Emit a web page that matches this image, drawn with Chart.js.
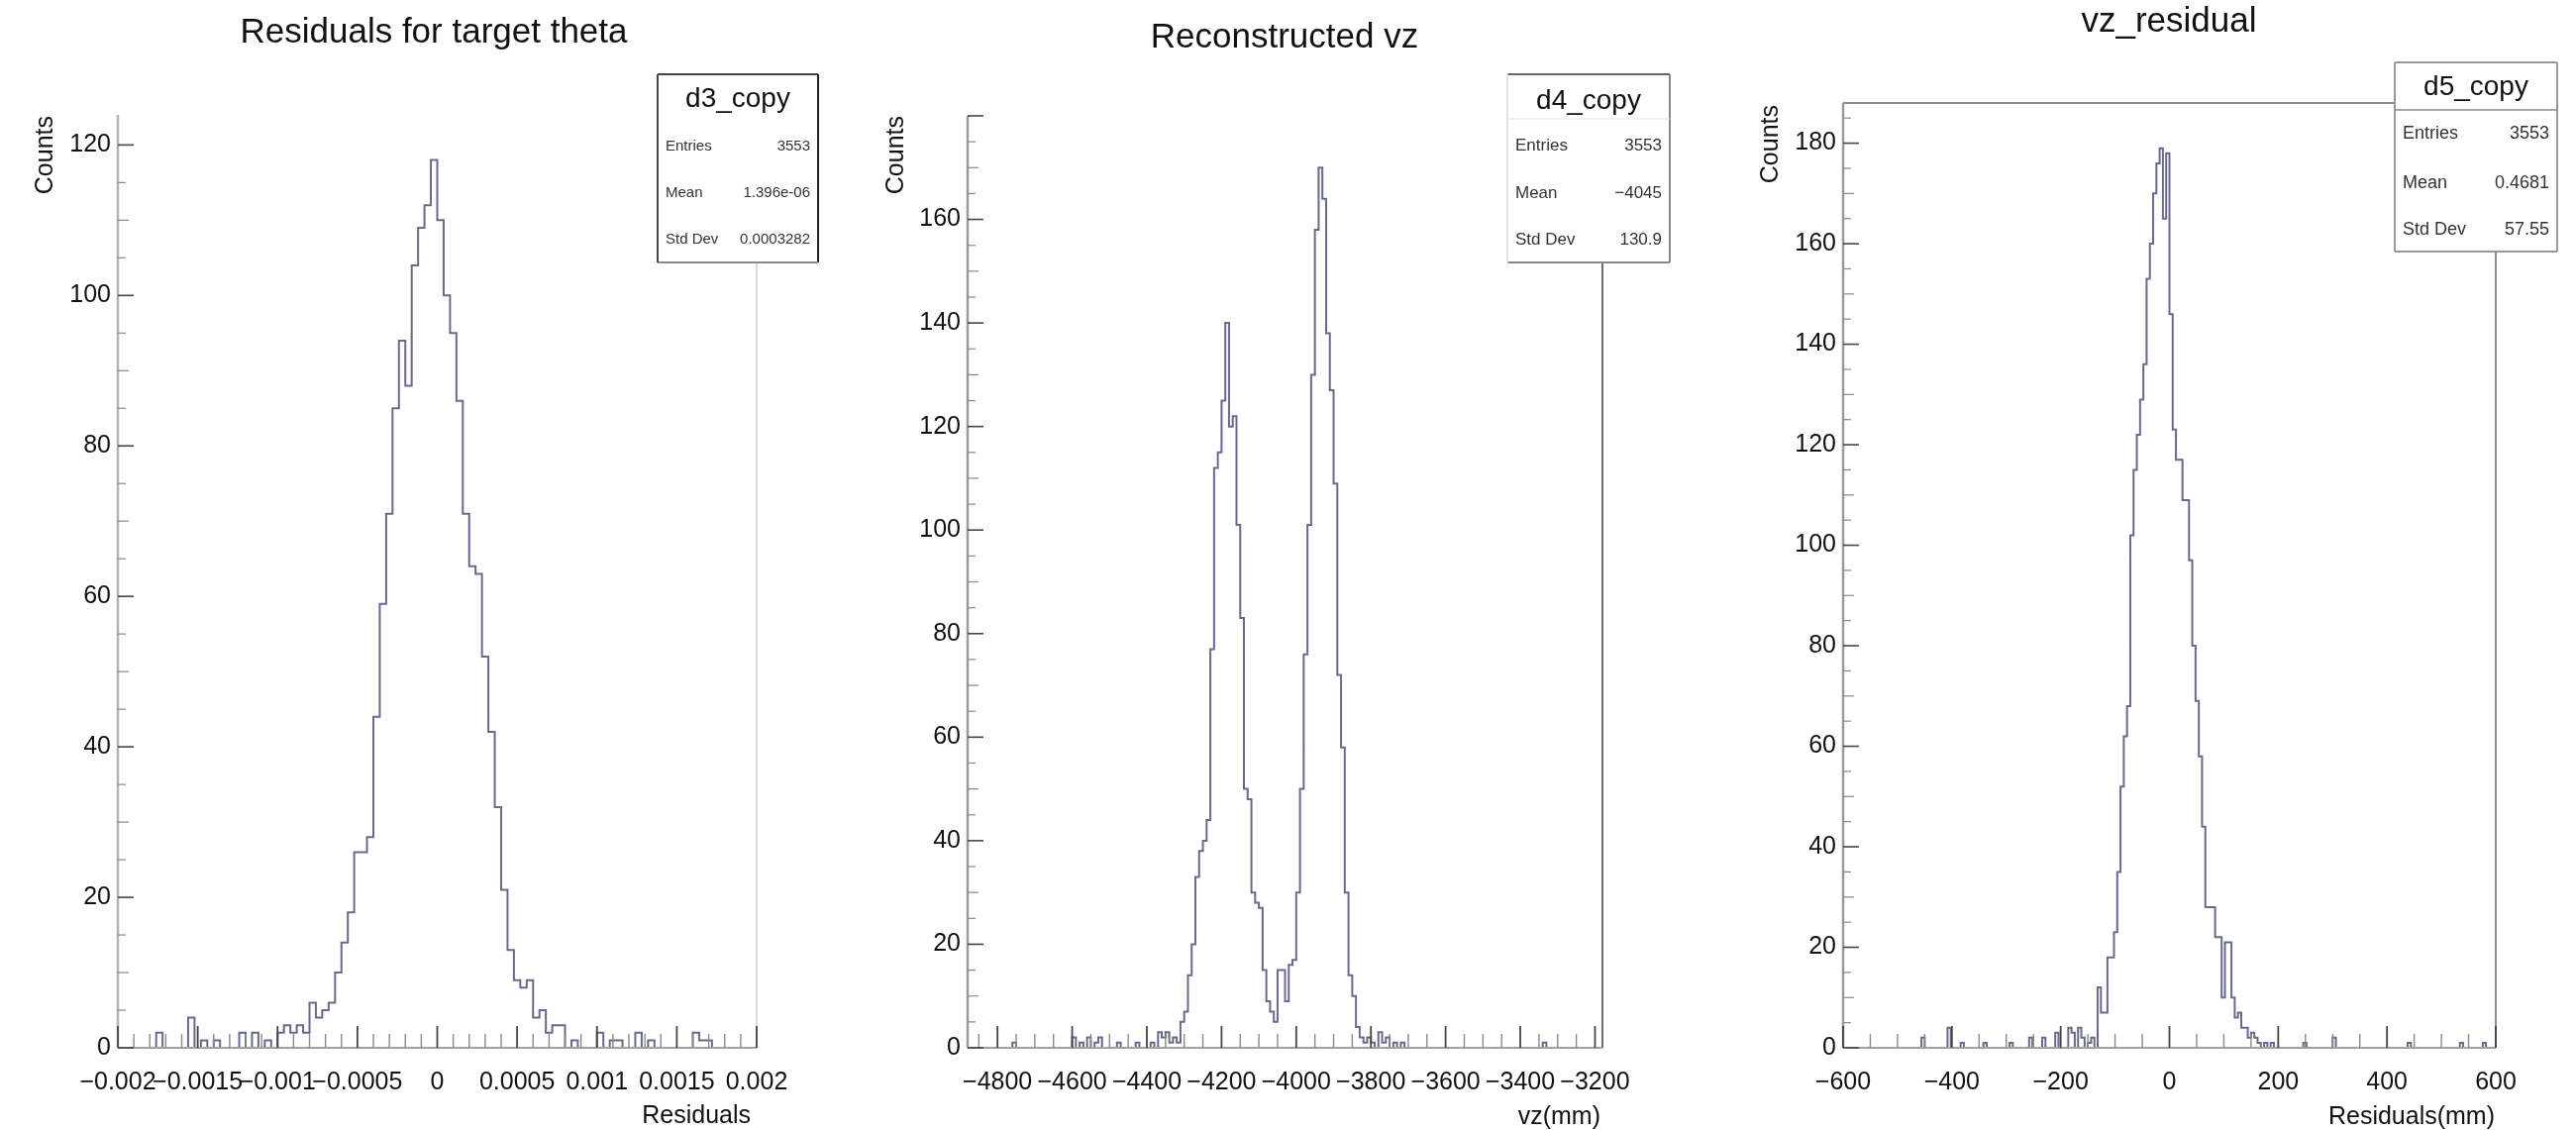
<!DOCTYPE html>
<html>
<head>
<meta charset="utf-8">
<script src="https://cdn.jsdelivr.net/npm/chart.js@4.4.0/dist/chart.umd.min.js"></script>
<style>
html,body{margin:0;padding:0;background:#fff;width:2601px;height:1141px;overflow:hidden;}
canvas{position:absolute;top:0;}
</style>
</head>
<body>
<canvas id="c1" width="867" height="1141" style="left:0px"></canvas>
<canvas id="c2" width="873" height="1141" style="left:867px"></canvas>
<canvas id="c3" width="861" height="1141" style="left:1740px"></canvas>
<script>
// ---------------- DATA ----------------
const panelTitles = ['Residuals for target theta', 'Reconstructed vz', 'vz_residual'];
const xAxisTitles = ['Residuals', 'vz(mm)', 'Residuals(mm)'];
const yAxisTitle = 'Counts';
const statNames = ['Entries', 'Mean', 'Std Dev'];
const boxNames = ['d3_copy', 'd4_copy', 'd5_copy'];
const thetaStats = ['3553', '1.396e-06', '0.0003282'];
const vzStats = ['3553', '\u22124045', '130.9'];
const vzResStats = ['3553', '0.4681', '57.55'];

// Panel 1: residuals for target theta, 100 bins from -0.002, width 0.00004
const thetaBinStart = -0.002;
const thetaBinWidth = 0.00004;
const thetaCounts = [
  0,0,0,0,0,0,0,2,0,0,
  0,0,4,0,1,0,1,0,0,0,
  2,0,2,0,1,0,2,3,2,3,
  2,6,4,5,6,10,14,18,26,26,
  28,44,59,71,85,94,88,104,109,112,
  118,110,100,95,86,71,64,63,52,42,
  32,21,13,9,8,9,4,5,2,3,
  3,0,1,0,0,0,2,0,1,1,
  0,0,2,0,1,0,0,0,0,0,
  0,2,1,1,0,0,0,0,0,0
];
const thetaXTicks = [-0.002, -0.0015, -0.001, -0.0005, 0, 0.0005, 0.001, 0.0015, 0.002];
const thetaXLabels = ['\u22120.002', '\u22120.0015', '\u22120.001', '\u22120.0005', '0', '0.0005', '0.001', '0.0015', '0.002'];
const thetaYTicks = [0, 20, 40, 60, 80, 100, 120];
const thetaYLabels = ['0', '20', '40', '60', '80', '100', '120'];

// Panel 2: reconstructed vz, 170 bins from -4880, width 10
const vzBinStart = -4880;
const vzBinWidth = 10;
const vzCounts = [
  0,0,0,0,0,0,0,0,0,0,
  0,0,0,1,0,0,0,0,0,0,
  0,0,0,0,0,0,0,0,0,2,
  0,1,0,2,0,1,2,0,0,0,
  0,1,0,0,0,0,1,0,0,0,
  1,0,3,2,3,1,2,1,5,7,
  14,20,33,38,40,44,77,112,115,125,
  140,120,122,101,83,50,48,30,28,27,
  15,9,7,5,15,15,9,16,17,30,
  50,76,101,130,158,170,164,138,127,109,
  72,58,30,14,10,4,2,1,2,1,
  0,3,1,2,0,1,0,1,0,0,
  0,0,0,0,0,0,0,0,0,0,
  0,0,0,0,0,0,0,0,0,0,
  0,0,0,0,0,0,0,0,0,0,
  0,0,0,0,0,1,0,0,0,0,
  0,0,0,0,0,0,0,0,0,0
];
const vzXTicks = [-4800, -4600, -4400, -4200, -4000, -3800, -3600, -3400, -3200];
const vzXLabels = ['\u22124800', '\u22124600', '\u22124400', '\u22124200', '\u22124000', '\u22123800', '\u22123600', '\u22123400', '\u22123200'];
const vzYTicks = [0, 20, 40, 60, 80, 100, 120, 140, 160];
const vzYLabels = ['0', '20', '40', '60', '80', '100', '120', '140', '160'];

// Panel 3: vz residual, 200 bins from -600, width 6
const resBinStart = -600;
const resBinWidth = 6;
const resCounts = [
  0,0,0,0,0,0,0,0,0,0,
  0,0,0,0,0,0,0,0,0,0,
  0,0,0,0,0,2,0,0,0,0,
  0,0,0,4,0,0,0,1,0,0,
  0,0,0,0,1,0,0,0,0,0,
  0,0,1,0,0,0,0,0,2,0,
  0,0,2,0,0,0,3,0,0,0,
  4,3,0,4,2,0,1,2,0,12,
  7,7,18,18,23,35,52,62,68,102,
  115,122,129,136,153,160,170,176,179,165,
  178,146,123,117,117,109,109,97,80,69,
  58,44,28,28,28,22,22,10,21,21,
  10,6,7,4,4,2,3,2,1,0,
  1,0,1,0,0,0,0,0,0,0,
  0,0,1,0,0,0,0,0,0,0,
  0,2,0,0,0,0,0,0,0,0,
  0,0,0,0,0,0,0,0,0,0,
  0,0,0,0,1,0,0,0,0,0,
  0,0,0,0,0,0,0,0,0,0,
  1,0,0,0,0,0,0,1,0,0
];
const resXTicks = [-600, -400, -200, 0, 200, 400, 600];
const resXLabels = ['\u2212600', '\u2212400', '\u2212200', '0', '200', '400', '600'];
const resYTicks = [0, 20, 40, 60, 80, 100, 120, 140, 160, 180];
const resYLabels = ['0', '20', '40', '60', '80', '100', '120', '140', '160', '180'];

// ---------------- RENDERING ----------------
const FONT = "'Liberation Sans', Arial, Helvetica, sans-serif";
Chart.defaults.font.family = FONT;
Chart.defaults.color = '#111';

function histPoints(start, width, counts) {
  const pts = counts.map((c, i) => ({ x: start + i * width, y: c }));
  pts.push({ x: start + counts.length * width, y: counts[counts.length - 1] });
  return pts;
}

const decor = {
  id: 'decor',
  afterDraw(chart, args, o) {
    const ctx = chart.ctx, a = chart.chartArea, xs = chart.scales.x, ys = chart.scales.y, L = o.canvasLeft;
    ctx.save();
    const seg = (x1, y1, x2, y2, c, w) => {
      ctx.strokeStyle = c; ctx.lineWidth = w; ctx.beginPath(); ctx.moveTo(x1, y1); ctx.lineTo(x2, y2); ctx.stroke();
    };
    // frame
    if (o.frameTop) seg(a.left, a.top, o.frameTopEnd - L, a.top, o.frameTop, 2);
    if (o.frameRight) seg(a.right, a.top, a.right, a.bottom, o.frameRight, 2);
    seg(a.left, a.top, a.left, a.bottom, o.yAxisColor, 2.5);
    seg(a.left, a.bottom, a.right, a.bottom, o.xAxisColor, 2);
    // x ticks (inward)
    const xr = Math.round(o.xMajor / o.xMinor);
    const i0 = Math.ceil(xs.min / o.xMinor - 1e-6), i1 = Math.floor(xs.max / o.xMinor + 1e-6);
    for (let i = i0; i <= i1; i++) {
      const px = xs.getPixelForValue(i * o.xMinor);
      const major = (i % xr) === 0;
      seg(px, a.bottom, px, a.bottom - (major ? 22 : 14), major ? '#444' : '#8a8a8a', major ? 1.8 : 1.4);
    }
    // y ticks (inward)
    const yr = Math.round(o.yMajor / o.yMinor);
    const j1 = Math.floor(ys.max / o.yMinor + 1e-6);
    for (let j = 0; j <= j1; j++) {
      const py = ys.getPixelForValue(j * o.yMinor);
      const major = (j % yr) === 0;
      const mid = (j % (yr / 2)) === 0;
      seg(a.left, py, a.left + (major ? 16 : (mid ? 11 : 8)), py, major ? '#444' : '#888', major ? 1.6 : 1.2);
    }
    // panel title
    ctx.fillStyle = '#111';
    ctx.font = `${o.title.size}px ${FONT}`;
    ctx.textAlign = 'center'; ctx.textBaseline = 'middle';
    ctx.fillText(o.title.text, o.title.x - L, o.title.y);
    // x axis title
    ctx.font = `25px ${FONT}`;
    ctx.textAlign = 'right';
    ctx.fillText(o.xTitle.text, o.xTitle.x - L, o.xTitle.y);
    // y axis title
    ctx.save();
    ctx.translate(o.yTitle.x - L, o.yTitle.yTop);
    ctx.rotate(-Math.PI / 2);
    ctx.textAlign = 'right'; ctx.textBaseline = 'middle';
    ctx.fillText(o.yTitle.text, 0, 0);
    ctx.restore();
    // stats box
    const b = o.box;
    const x1 = b.x1 - L, x2 = b.x2 - L;
    ctx.fillStyle = '#fff';
    ctx.fillRect(x1, b.y1, x2 - x1, b.y2 - b.y1);
    if (b.top) seg(x1, b.y1, x2, b.y1, b.top, b.w);
    if (b.right) seg(x2, b.y1, x2, b.y2, b.right, b.w);
    if (b.bottom) seg(x1, b.y2, x2, b.y2, b.bottom, b.w);
    if (b.left) seg(x1, b.y1, x1, b.y2, b.left, b.w);
    if (b.sepY) seg(x1, b.sepY, x2, b.sepY, b.sep, 1.5);
    ctx.fillStyle = '#111';
    ctx.font = `${b.titleSize}px ${FONT}`;
    ctx.textAlign = 'center'; ctx.textBaseline = 'middle';
    ctx.fillText(b.title, (x1 + x2) / 2, b.titleY);
    ctx.font = `${b.rowSize}px ${FONT}`;
    ctx.fillStyle = '#333';
    b.names.forEach((n, k) => {
      ctx.textAlign = 'left';
      ctx.fillText(n, x1 + 8, b.rowY[k]);
      ctx.textAlign = 'right';
      ctx.fillText(b.values[k], x2 - 8, b.rowY[k]);
    });
    ctx.restore();
  }
};

function makePanel(id, p) {
  return new Chart(document.getElementById(id), {
    type: 'line',
    data: {
      datasets: [{
        data: histPoints(p.start, p.width, p.counts),
        stepped: 'after',
        borderColor: 'rgba(68,68,112,0.8)',
        borderWidth: 2,
        pointRadius: 0,
        fill: false,
        tension: 0
      }]
    },
    options: {
      responsive: false,
      animation: false,
      devicePixelRatio: 1,
      events: [],
      layout: { padding: { left: 0, right: p.padRight, top: p.padTop, bottom: 13 } },
      plugins: { legend: { display: false }, tooltip: { enabled: false }, title: { display: false }, decor: p.decor },
      scales: {
        x: {
          type: 'linear', min: p.xMin, max: p.xMax,
          afterBuildTicks: s => { s.ticks = p.xTicks.map(v => ({ value: v })); },
          afterFit: s => { s.height = 70; },
          ticks: { autoSkip: false, maxRotation: 0, minRotation: 0, padding: 20, font: { size: 25 }, color: '#111',
                   callback: (v, i) => p.xLabels[i] },
          grid: { display: false, drawTicks: false }, border: { display: false }
        },
        y: {
          type: 'linear', min: 0, max: p.yMax,
          afterBuildTicks: s => { s.ticks = p.yTicks.map(v => ({ value: v })); },
          afterFit: s => { s.width = p.yAxisW; },
          ticks: { autoSkip: false, padding: 7, font: { size: 25 }, color: '#111',
                   callback: (v, i) => p.yLabels[i] },
          grid: { display: false, drawTicks: false }, border: { display: false }
        }
      }
    },
    plugins: [decor]
  });
}

makePanel('c1', {
  start: thetaBinStart, width: thetaBinWidth, counts: thetaCounts,
  xMin: -0.002, xMax: 0.002, yMax: 124,
  xTicks: thetaXTicks, xLabels: thetaXLabels, yTicks: thetaYTicks, yLabels: thetaYLabels,
  yAxisW: 119, padRight: 103, padTop: 116,
  decor: {
    canvasLeft: 0, xMinor: 0.0001, xMajor: 0.0005, yMinor: 5, yMajor: 20,
    yAxisColor: '#b5b5b5', xAxisColor: '#a0a0a0', frameRight: '#dcdcdc',
    title: { text: panelTitles[0], x: 438, y: 33, size: 35 },
    xTitle: { text: xAxisTitles[0], x: 758, y: 1127 },
    yTitle: { text: yAxisTitle, x: 46, yTop: 117 },
    box: { x1: 664, x2: 826, y1: 75, y2: 265, w: 2, top: '#444', right: '#222', bottom: '#888', left: '#444',
           title: boxNames[0], titleSize: 28, titleY: 100, rowSize: 15, names: statNames, values: thetaStats, rowY: [148, 195, 242] }
  }
});

makePanel('c2', {
  start: vzBinStart, width: vzBinWidth, counts: vzCounts,
  xMin: -4880, xMax: -3180, yMax: 180,
  xTicks: vzXTicks, xLabels: vzXLabels, yTicks: vzYTicks, yLabels: vzYLabels,
  yAxisW: 110, padRight: 122, padTop: 117,
  decor: {
    canvasLeft: 867, xMinor: 50, xMajor: 200, yMinor: 5, yMajor: 20,
    yAxisColor: '#9a9a9a', xAxisColor: '#a0a0a0', frameRight: '#6e6e6e',
    title: { text: panelTitles[1], x: 1297, y: 38, size: 35 },
    xTitle: { text: xAxisTitles[1], x: 1616, y: 1128 },
    yTitle: { text: yAxisTitle, x: 905, yTop: 117 },
    box: { x1: 1522, x2: 1686, y1: 75, y2: 265, w: 2, top: '#666', right: '#888', bottom: '#888', left: '#e4e4e4',
           sepY: 120, sep: '#eeeeee',
           title: boxNames[1], titleSize: 28, titleY: 102, rowSize: 17, names: statNames, values: vzStats, rowY: [147, 195, 242] }
  }
});

makePanel('c3', {
  start: resBinStart, width: resBinWidth, counts: resCounts,
  xMin: -600, xMax: 600, yMax: 188,
  xTicks: resXTicks, xLabels: resXLabels, yTicks: resYTicks, yLabels: resYLabels,
  yAxisW: 121, padRight: 81, padTop: 104,
  decor: {
    canvasLeft: 1740, xMinor: 50, xMajor: 200, yMinor: 5, yMajor: 20,
    yAxisColor: '#9a9a9a', xAxisColor: '#a0a0a0', frameRight: '#8a8a8a', frameTop: '#8a8a8a', frameTopEnd: 2418,
    title: { text: panelTitles[2], x: 2190, y: 22, size: 35 },
    xTitle: { text: xAxisTitles[2], x: 2519, y: 1128 },
    yTitle: { text: yAxisTitle, x: 1788, yTop: 106 },
    box: { x1: 2418, x2: 2582, y1: 63, y2: 254, w: 2, top: '#999', right: '#999', bottom: '#999', left: '#999',
           sepY: 111, sep: '#8a8a8a',
           title: boxNames[2], titleSize: 28, titleY: 88, rowSize: 18, names: statNames, values: vzResStats, rowY: [135, 185, 232] }
  }
});
</script>
</body>
</html>
